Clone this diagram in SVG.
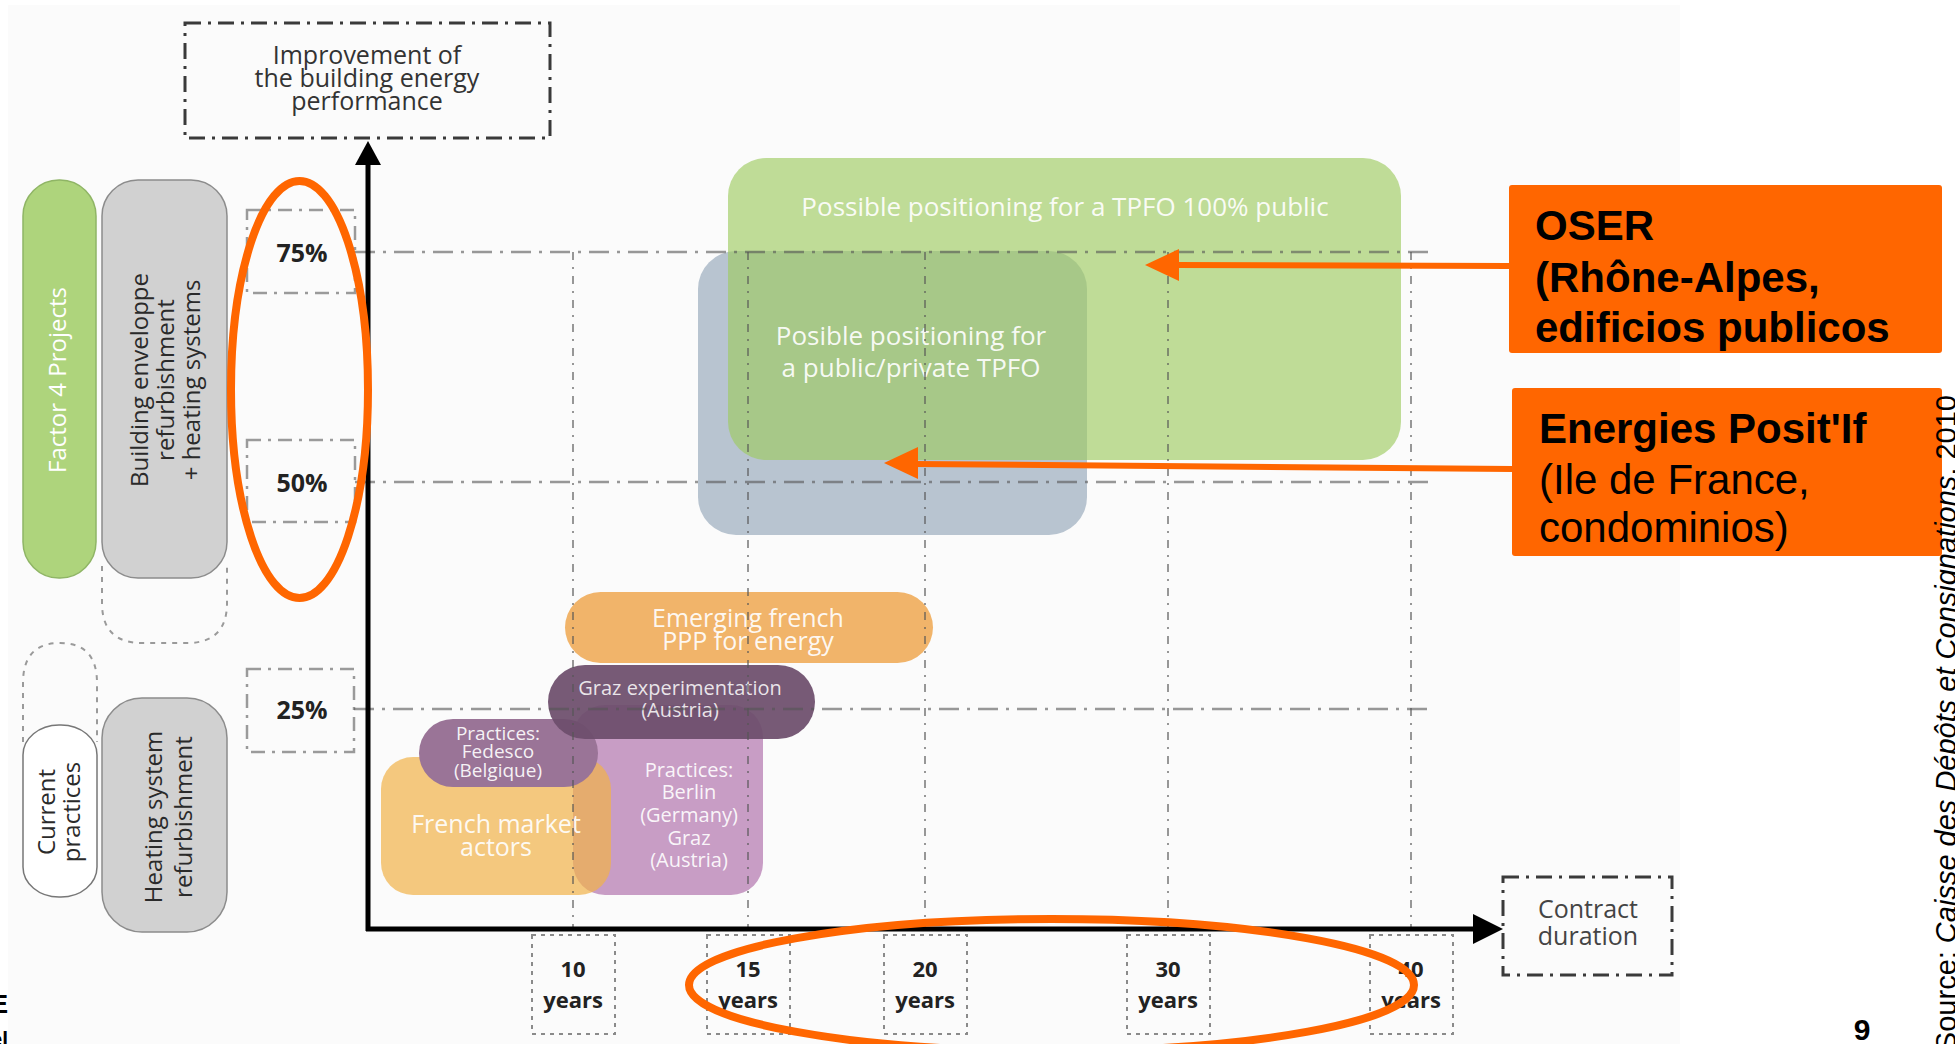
<svg xmlns="http://www.w3.org/2000/svg" width="1955" height="1044" viewBox="0 0 1955 1044">
<defs>
<style>
.f{font-family:'Open Sans','Liberation Sans',sans-serif;}
.wt{fill:#ffffff;fill-opacity:.92;}
.dt{fill:#2a2a2a;}
.num{font-family:'Open Sans','Liberation Sans',sans-serif;font-weight:700;fill:#222;}
.abox{fill:none;stroke:#3a3a3a;stroke-width:3;stroke-dasharray:16 7 3 7;}
.pbox{fill:none;stroke:#9a9a9a;stroke-width:2.5;stroke-dasharray:14 7 3 7;}
.ybox{fill:none;stroke:#8a8a8a;stroke-width:2;stroke-dasharray:4 5;}
.hgrid{stroke:#555;stroke-opacity:.6;stroke-width:2.5;stroke-dasharray:20 8 3 8;fill:none;}
.vgrid{stroke:#555;stroke-opacity:.6;stroke-width:2;stroke-dasharray:8 7 2 7;fill:none;}
.dotx{fill:none;stroke:#9a9a9a;stroke-width:2;stroke-dasharray:5 6;}
.pill{fill:#d1d1d1;stroke:#8c8c8c;stroke-width:1.5;}
.callout{font-family:'Liberation Sans',Arial,sans-serif;font-size:42px;fill:#000;}
.orange{fill:#ff6600;}
.oline{stroke:#ff6600;stroke-width:6;fill:none;}
.ring{fill:none;stroke:#ff6600;stroke-width:8;}
</style>
</defs>

<rect x="0" y="0" width="1955" height="1044" fill="#ffffff"/>
<rect x="8" y="5" width="1672" height="1039" fill="#fbfbfb"/>

<!-- Y axis label box -->
<g id="y-axis-label">
<rect class="abox" x="185" y="23" width="365" height="115"/>
<text class="f" font-size="25" fill="#333" text-anchor="middle"><tspan x="367" y="64">Improvement of</tspan><tspan x="367" y="87">the building energy</tspan><tspan x="367" y="110">performance</tspan></text>
</g>

<!-- X axis label box -->
<g id="x-axis-label">
<rect class="abox" x="1503" y="877" width="169" height="98"/>
<text class="f" font-size="25" fill="#444" text-anchor="middle"><tspan x="1588" y="918">Contract</tspan><tspan x="1588" y="945">duration</tspan></text>
</g>

<!-- left category pills -->
<g id="factor4">
<rect x="23" y="180" width="73" height="398" rx="36" fill="#aed47c" stroke="#8fb565" stroke-width="1.5"/>
<text class="f" font-size="24" fill="#ffffff" text-anchor="middle" transform="translate(66,380) rotate(-90)">Factor 4 Projects</text>
</g>
<g id="envelope">
<rect class="pill" x="102" y="180" width="125" height="398" rx="36"/>
<text class="f dt" font-size="24" text-anchor="middle" transform="translate(148,380) rotate(-90)">Building enveloppe</text>
<text class="f dt" font-size="24" text-anchor="middle" transform="translate(174,380) rotate(-90)">refurbishment</text>
<text class="f dt" font-size="24" text-anchor="middle" transform="translate(200,380) rotate(-90)">+ heating systems</text>
<path class="dotx" d="M102,566 L102,603 Q102,643 142,643 L187,643 Q227,643 227,603 L227,566"/>
</g>
<g id="current">
<path class="dotx" d="M23,742 L23,683 Q23,643 60,643 Q97,643 97,683 L97,742"/>
<rect x="23" y="725" width="74" height="172" rx="36" ry="30" fill="#ffffff" stroke="#777" stroke-width="1.5"/>
<text class="f dt" font-size="24" text-anchor="middle" transform="translate(55,812) rotate(-90)">Current</text>
<text class="f dt" font-size="24" text-anchor="middle" transform="translate(80,812) rotate(-90)">practices</text>
</g>
<g id="heating">
<rect class="pill" x="102" y="698" width="125" height="234" rx="40"/>
<text class="f dt" font-size="24" text-anchor="middle" transform="translate(162,817) rotate(-90)">Heating system</text>
<text class="f dt" font-size="24" text-anchor="middle" transform="translate(192,817) rotate(-90)">refurbishment</text>
</g>

<!-- percent labels -->
<g id="p75"><rect class="pbox" x="247" y="210" width="108" height="83"/><text class="num" font-size="25" x="302" y="262" text-anchor="middle">75%</text></g>
<g id="p50"><rect class="pbox" x="247" y="440" width="108" height="82"/><text class="num" font-size="25" x="302" y="492" text-anchor="middle">50%</text></g>
<g id="p25"><rect class="pbox" x="247" y="669" width="107" height="83"/><text class="num" font-size="25" x="302" y="719" text-anchor="middle">25%</text></g>

<!-- year labels -->
<g id="y10"><rect class="ybox" x="532" y="935" width="83" height="99"/><text class="num" font-size="22" text-anchor="middle"><tspan x="573" y="977">10</tspan><tspan x="573" y="1008">years</tspan></text></g>
<g id="y15"><rect class="ybox" x="707" y="935" width="83" height="99"/><text class="num" font-size="22" text-anchor="middle"><tspan x="748" y="977">15</tspan><tspan x="748" y="1008">years</tspan></text></g>
<g id="y20"><rect class="ybox" x="884" y="935" width="83" height="99"/><text class="num" font-size="22" text-anchor="middle"><tspan x="925" y="977">20</tspan><tspan x="925" y="1008">years</tspan></text></g>
<g id="y30"><rect class="ybox" x="1127" y="935" width="83" height="99"/><text class="num" font-size="22" text-anchor="middle"><tspan x="1168" y="977">30</tspan><tspan x="1168" y="1008">years</tspan></text></g>
<g id="y40"><rect class="ybox" x="1370" y="935" width="83" height="99"/><text class="num" font-size="22" text-anchor="middle"><tspan x="1411" y="977">40</tspan><tspan x="1411" y="1008">years</tspan></text></g>

<!-- positioning areas -->
<g id="public-private">
<rect x="698" y="251" width="389" height="284" rx="38" fill="#b8c4d0"/>
</g>
<g id="public100">
<rect x="728" y="158" width="673" height="302" rx="38" fill="#9ecb61" fill-opacity="0.65"/>
<text class="f wt" font-size="26" x="1065" y="216" text-anchor="middle">Possible positioning for a TPFO 100% public</text>
</g>
<g id="public-private-label">
<text class="f wt" font-size="26" text-anchor="middle"><tspan x="911" y="345">Posible positioning for</tspan><tspan x="911" y="377">a public/private TPFO</tspan></text>
</g>

<g id="berlin">
<rect x="573" y="705" width="190" height="190" rx="32" fill="#c89dc5"/>
</g>
<g id="french-market">
<rect x="381" y="757" width="230" height="138" rx="32" fill="#f1b248" fill-opacity="0.7"/>
<text class="f wt" font-size="25" text-anchor="middle"><tspan x="496" y="833">French market</tspan><tspan x="496" y="856">actors</tspan></text>
</g>
<g id="berlin-label">
<text class="f wt" font-size="20" text-anchor="middle"><tspan x="689" y="777">Practices:</tspan><tspan x="689" y="799">Berlin</tspan><tspan x="689" y="822">(Germany)</tspan><tspan x="689" y="845">Graz</tspan><tspan x="689" y="867">(Austria)</tspan></text>
</g>
<g id="fedesco">
<rect x="419" y="719" width="179" height="68" rx="34" fill="#9a7497"/>
<text class="f wt" font-size="19" text-anchor="middle"><tspan x="498" y="740">Practices:</tspan><tspan x="498" y="758">Fedesco</tspan><tspan x="498" y="777">(Belgique)</tspan></text>
</g>
<g id="graz">
<rect x="548" y="665" width="267" height="74" rx="37" fill="#6d4d6c" fill-opacity="0.93"/>
<text class="f" font-size="20" fill="#ffffff" fill-opacity="0.85" text-anchor="middle"><tspan x="680" y="695">Graz experimentation</tspan><tspan x="680" y="717">(Austria)</tspan></text>
</g>
<g id="emerging">
<rect x="565" y="592" width="368" height="71" rx="35.5" fill="#f1b46a"/>
<text class="f wt" font-size="25" text-anchor="middle"><tspan x="748" y="627">Emerging french</tspan><tspan x="748" y="650">PPP for energy</tspan></text>
</g>

<!-- grid -->
<g id="grid">
<line class="hgrid" x1="355" y1="252" x2="1434" y2="252"/>
<line class="hgrid" x1="355" y1="482" x2="1434" y2="482"/>
<line class="hgrid" x1="354" y1="709" x2="1434" y2="709"/>
<line class="vgrid" x1="573" y1="252" x2="573" y2="929"/>
<line class="vgrid" x1="748" y1="252" x2="748" y2="929"/>
<line class="vgrid" x1="925" y1="252" x2="925" y2="929"/>
<line class="vgrid" x1="1168" y1="252" x2="1168" y2="929"/>
<line class="vgrid" x1="1411" y1="252" x2="1411" y2="929"/>
</g>

<!-- axes -->
<g id="axes">
<line x1="368" y1="931" x2="368" y2="160" stroke="#000" stroke-width="5"/>
<polygon points="368,141 355,165 381,165" fill="#000"/>
<line x1="366" y1="929" x2="1478" y2="929" stroke="#000" stroke-width="5"/>
<polygon points="1503,929 1473,914 1473,944" fill="#000"/>
</g>

<!-- highlight rings -->
<g id="rings">
<ellipse class="ring" cx="299.5" cy="389.5" rx="68.5" ry="208.5"/>
<ellipse class="ring" cx="1051.5" cy="985" rx="362.5" ry="66"/>
</g>

<!-- callouts -->
<g id="oser">
<rect class="orange" x="1509" y="185" width="433" height="168" rx="3"/>
<text class="callout" font-weight="700"><tspan x="1535" y="240">OSER</tspan><tspan x="1535" y="292">(Rhône-Alpes,</tspan><tspan x="1535" y="342">edificios publicos</tspan></text>
</g>
<g id="energies">
<rect class="orange" x="1512" y="388" width="430" height="168" rx="3"/>
<text class="callout"><tspan x="1539" y="443" font-weight="700">Energies Posit'If</tspan><tspan x="1539" y="494">(Ile de France,</tspan><tspan x="1539" y="542">condominios)</tspan></text>
</g>

<g id="connectors">
<line class="oline" x1="1509" y1="266" x2="1175" y2="265"/>
<polygon class="orange" points="1145,265 1179,249 1179,281"/>
<line class="oline" x1="1512" y1="469" x2="914" y2="464"/>
<polygon class="orange" points="884,463 918,447 918,479"/>
</g>

<!-- page furniture -->
<text x="1862" y="1040" font-family="'Liberation Sans',Arial,sans-serif" font-size="30" font-weight="700" text-anchor="middle" fill="#000">9</text>
<text transform="translate(1956,395) rotate(-90)" font-family="'Liberation Sans',Arial,sans-serif" font-size="29" text-anchor="end" fill="#000">Source: <tspan font-style="italic">Caisse des Dépôts et Consignations</tspan>, 2010</text>
<text x="8" y="1013" font-family="'Liberation Sans',Arial,sans-serif" font-size="26" font-weight="700" text-anchor="end" fill="#000">E</text>
<text x="8" y="1046" font-family="'Liberation Sans',Arial,sans-serif" font-size="21" font-weight="700" text-anchor="end" fill="#000">el</text>
</svg>
